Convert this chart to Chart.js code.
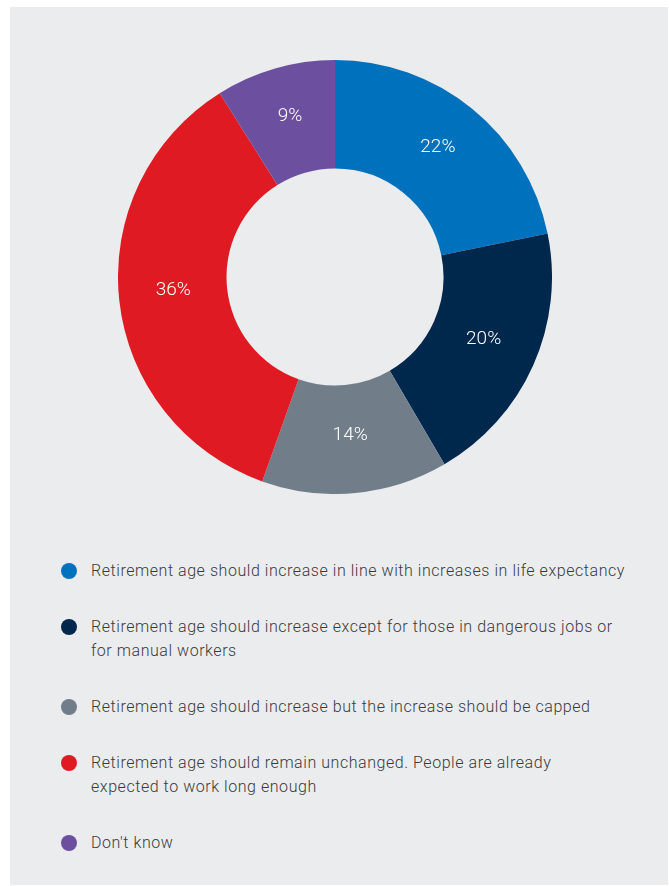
<!DOCTYPE html>
<html>
<head>
<meta charset="utf-8">
<script src="https://cdn.jsdelivr.net/npm/chart.js@4/dist/chart.umd.min.js"></script>
<style>
  html, body { margin: 0; padding: 0; background: #ffffff; }
  body { width: 669px; height: 886px; position: relative; overflow: hidden; font-family: Roboto, sans-serif; }
  .panel { position: absolute; left: 10px; top: 7px; width: 658px; height: 878px; background: #ebecee; }
  .chart-box { position: absolute; left: 118px; top: 60px; width: 434px; height: 434px; }
  .legend { position: absolute; left: 60px; top: 559px; width: 600px; margin: 0; padding: 0; list-style: none; }
  .legend li { position: relative; padding-left: 31px; margin-bottom: 32px; font-size: 16px; line-height: 24px; letter-spacing: 0.55px; color: #3a3a3a; font-weight: 300; white-space: nowrap; }
  .legend .dot { position: absolute; left: 1px; top: 4px; width: 16px; height: 16px; border-radius: 50%; }
</style>
</head>
<body>
<div class="panel"></div>
<div class="chart-box"><canvas id="donut" width="434" height="434"></canvas></div>
<ul class="legend" id="legend"></ul>

<script>
// Chart data (multi-line labels as arrays)
const categories = [
  ['Retirement age should increase in line with increases in life expectancy'],
  ['Retirement age should increase except for those in dangerous jobs or', 'for manual workers'],
  ['Retirement age should increase but the increase should be capped'],
  ['Retirement age should remain unchanged. People are already', 'expected to work long enough'],
  ["Don't know"]
];
const shares = [22, 20, 14, 36, 9];
const sliceColors = ['#0071bc', '#00284d', '#717e8a', '#e01a22', '#6c4f9e'];

// Percent labels drawn in the middle of each slice
const sliceLabels = {
  id: 'sliceLabels',
  afterDatasetsDraw(chart) {
    const ctx = chart.ctx;
    const meta = chart.getDatasetMeta(0);
    ctx.save();
    ctx.fillStyle = '#ffffff';
    ctx.font = '300 19px Roboto, sans-serif';
    ctx.textAlign = 'center';
    ctx.textBaseline = 'middle';
    meta.data.forEach((arc, i) => {
      const pos = arc.tooltipPosition();
      ctx.fillText(shares[i] + '%', pos.x, pos.y - 4);
    });
    ctx.restore();
  }
};

const chart = new Chart(document.getElementById('donut').getContext('2d'), {
  type: 'doughnut',
  data: {
    labels: categories,
    datasets: [{
      data: shares,
      backgroundColor: sliceColors,
      borderWidth: 0
    }]
  },
  options: {
    responsive: false,
    animation: false,
    cutout: '50%',
    layout: { padding: 0 },
    plugins: {
      legend: { display: false },
      tooltip: { enabled: false }
    }
  },
  plugins: [sliceLabels]
});

// Build the legend from the chart's own labels
const legendEl = document.getElementById('legend');
chart.options.plugins.legend.labels.generateLabels(chart).forEach(item => {
  const li = document.createElement('li');
  const dot = document.createElement('span');
  dot.className = 'dot';
  dot.style.background = item.fillStyle;
  li.appendChild(dot);
  const lines = Array.isArray(item.text) ? item.text : [item.text];
  lines.forEach((line, i) => {
    if (i > 0) li.appendChild(document.createElement('br'));
    li.appendChild(document.createTextNode(line));
  });
  legendEl.appendChild(li);
});
</script>
</body>
</html>
